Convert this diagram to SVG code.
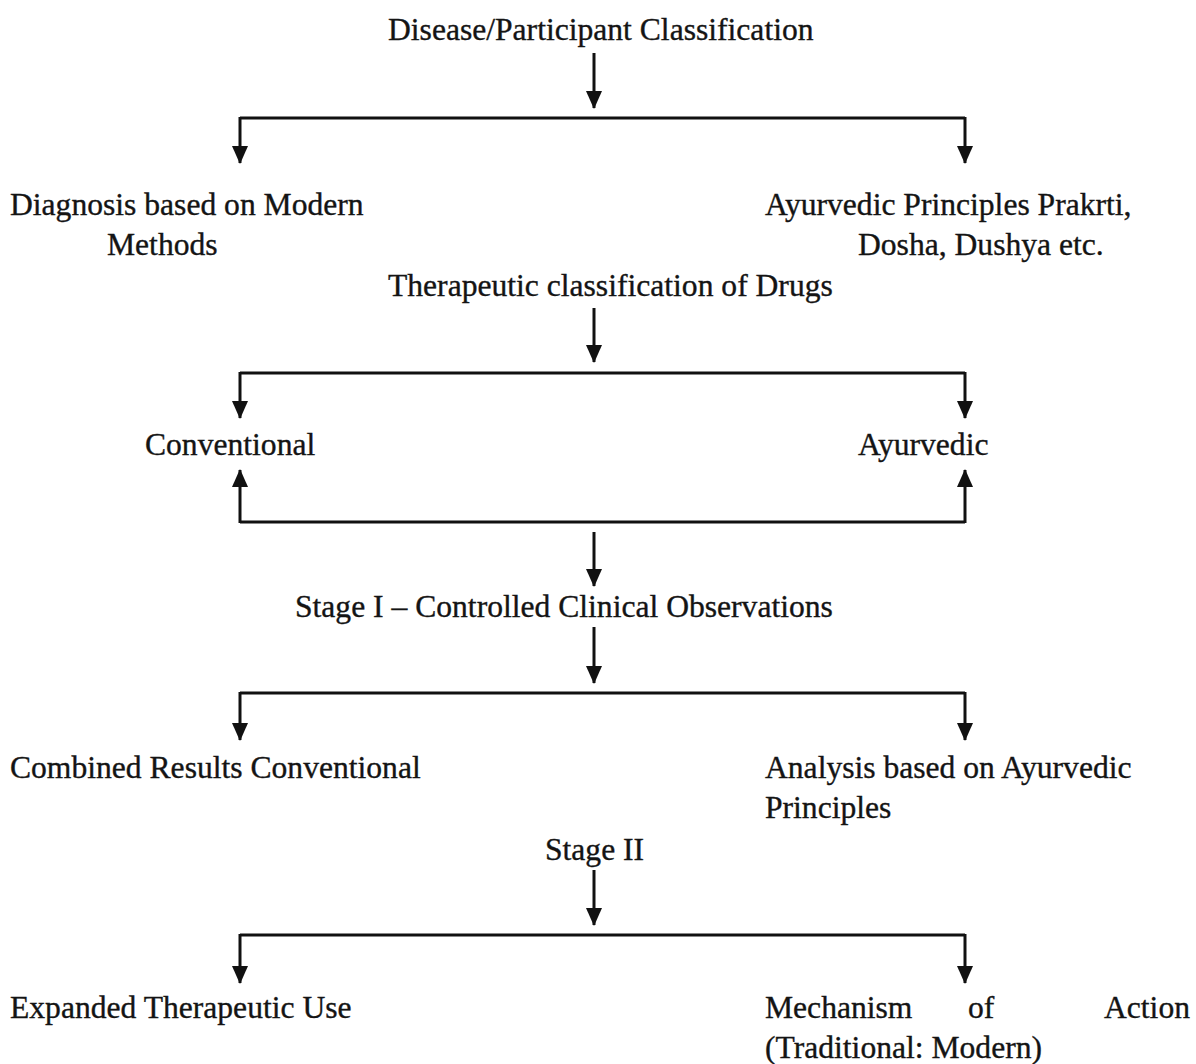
<svg xmlns="http://www.w3.org/2000/svg" width="1196" height="1064" viewBox="0 0 1196 1064">
<defs>
<style>
text{font-family:"Liberation Serif","Times New Roman",serif;font-size:31.6px;fill:#141414;stroke:#141414;stroke-width:0.35}
.c{stroke:#111;stroke-width:3;fill:none}
</style>
<marker id="ah" viewBox="0 0 18 16" refX="17" refY="8" markerWidth="18" markerHeight="16" markerUnits="userSpaceOnUse" orient="auto">
<path d="M0,0 L18,8 L0,16 Z" fill="#111"/>
</marker>
</defs>
<rect width="1196" height="1064" fill="#fff"/>
<g id="connectors">
<path class="c" d="M594,53 V108" marker-end="url(#ah)"/>
<path class="c" d="M240,118 H965"/>
<path class="c" d="M240,117 V163" marker-end="url(#ah)"/>
<path class="c" d="M965,117 V163" marker-end="url(#ah)"/>
<path class="c" d="M594,308 V362" marker-end="url(#ah)"/>
<path class="c" d="M240,373 H965"/>
<path class="c" d="M240,372 V418" marker-end="url(#ah)"/>
<path class="c" d="M965,372 V418" marker-end="url(#ah)"/>
<path class="c" d="M240,522 H965"/>
<path class="c" d="M240,523 V470" marker-end="url(#ah)"/>
<path class="c" d="M965,523 V470" marker-end="url(#ah)"/>
<path class="c" d="M594,532 V586" marker-end="url(#ah)"/>
<path class="c" d="M594,627 V683" marker-end="url(#ah)"/>
<path class="c" d="M240,693 H965"/>
<path class="c" d="M240,692 V740" marker-end="url(#ah)"/>
<path class="c" d="M965,692 V740" marker-end="url(#ah)"/>
<path class="c" d="M594,870 V925" marker-end="url(#ah)"/>
<path class="c" d="M240,935 H965"/>
<path class="c" d="M240,934 V983" marker-end="url(#ah)"/>
<path class="c" d="M965,934 V983" marker-end="url(#ah)"/>
</g>
<g id="n-disease"><text x="388" y="40">Disease/Participant Classification</text></g>
<g id="n-diagnosis"><text x="10" y="215">Diagnosis based on Modern</text><text x="107" y="255">Methods</text></g>
<g id="n-ayurprinciples"><text x="765" y="215">Ayurvedic Principles Prakrti,</text><text x="858" y="255">Dosha, Dushya etc.</text></g>
<g id="n-therapeutic"><text x="388" y="296">Therapeutic classification of Drugs</text></g>
<g id="n-conventional"><text x="145" y="455">Conventional</text></g>
<g id="n-ayurvedic"><text x="858" y="455">Ayurvedic</text></g>
<g id="n-stage1"><text x="295" y="617">Stage I – Controlled Clinical Observations</text></g>
<g id="n-combined"><text x="10" y="778">Combined Results Conventional</text></g>
<g id="n-analysis"><text x="765" y="778">Analysis based on Ayurvedic</text><text x="765" y="818">Principles</text></g>
<g id="n-stage2"><text x="545" y="860">Stage II</text></g>
<g id="n-expanded"><text x="10" y="1018">Expanded Therapeutic Use</text></g>
<g id="n-mechanism"><text x="765" y="1018">Mechanism</text><text x="968" y="1018">of</text><text x="1190" y="1018" text-anchor="end">Action</text><text x="765" y="1058">(Traditional: Modern)</text></g>
</svg>
